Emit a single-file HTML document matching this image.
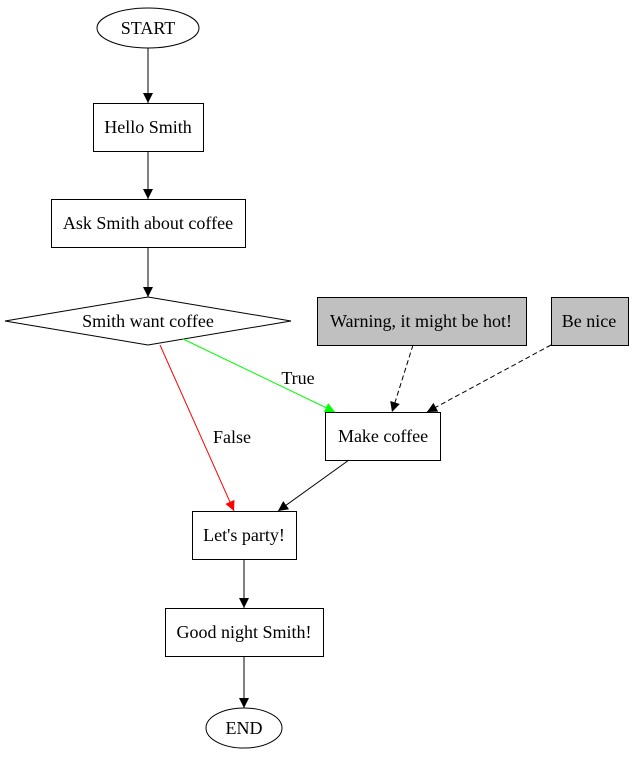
<!DOCTYPE html>
<html><head><meta charset="utf-8"><style>
html,body{margin:0;padding:0;background:#fff;}
svg{display:block;}
text{font-family:"Liberation Serif",serif;font-size:18px;fill:#000;}
</style></head><body>
<svg width="634" height="759" viewBox="0 0 634 759" xmlns="http://www.w3.org/2000/svg">
<defs>
<marker id="ab" viewBox="0 0 10 10" refX="10" refY="5" markerWidth="11" markerHeight="10" markerUnits="userSpaceOnUse" orient="auto"><path d="M0,0L10,5L0,10z" fill="#000"/></marker>
<marker id="ar" viewBox="0 0 10 10" refX="10" refY="5" markerWidth="11" markerHeight="10" markerUnits="userSpaceOnUse" orient="auto"><path d="M0,0L10,5L0,10z" fill="#f00"/></marker>
<marker id="ag" viewBox="0 0 10 10" refX="10" refY="5" markerWidth="11" markerHeight="10" markerUnits="userSpaceOnUse" orient="auto"><path d="M0,0L10,5L0,10z" fill="#0f0"/></marker>
</defs>
<g fill="none" stroke="#000" stroke-width="1">
<ellipse cx="148" cy="28" rx="51" ry="20" fill="#fff"/>
<rect x="93.5" y="103.5" width="110" height="48"/>
<rect x="51.5" y="199.5" width="194" height="48"/>
<polygon points="148,297 291,321 148,345 5,321"/>
<rect x="317.5" y="297.5" width="209" height="48" fill="#c0c0c0"/>
<rect x="551.5" y="297.5" width="77" height="48" fill="#c0c0c0"/>
<rect x="325.5" y="412.5" width="115" height="48"/>
<rect x="192.5" y="511.5" width="104" height="48"/>
<rect x="165.5" y="608.5" width="158" height="48"/>
<ellipse cx="244" cy="728" rx="38" ry="20"/>
<line x1="148" y1="48" x2="148" y2="103" marker-end="url(#ab)"/>
<line x1="148" y1="151" x2="148" y2="199" marker-end="url(#ab)"/>
<line x1="148" y1="247" x2="148" y2="297" marker-end="url(#ab)"/>
<line x1="183" y1="339" x2="335" y2="412" stroke="#0f0" marker-end="url(#ag)"/>
<line x1="160" y1="345" x2="234" y2="511" stroke="#f00" marker-end="url(#ar)"/>
<line x1="413" y1="345" x2="392" y2="412" stroke-dasharray="5,3" marker-end="url(#ab)"/>
<line x1="551" y1="345" x2="427" y2="412" stroke-dasharray="5,3" marker-end="url(#ab)"/>
<line x1="349" y1="460" x2="278" y2="511" marker-end="url(#ab)"/>
<line x1="244" y1="559" x2="244" y2="608" marker-end="url(#ab)"/>
<line x1="244" y1="656" x2="244" y2="708" marker-end="url(#ab)"/>
</g>
<g text-anchor="middle">
<text x="148" y="34">START</text>
<text x="148" y="133">Hello Smith</text>
<text x="148" y="229">Ask Smith about coffee</text>
<text x="148" y="327">Smith want coffee</text>
<text x="421" y="327">Warning, it might be hot!</text>
<text x="589" y="327">Be nice</text>
<text x="383" y="442">Make coffee</text>
<text x="244" y="541">Let's party!</text>
<text x="244" y="638">Good night Smith!</text>
<text x="244" y="734">END</text>
<text x="298" y="384">True</text>
<text x="232" y="443">False</text>
</g>
</svg>
</body></html>
